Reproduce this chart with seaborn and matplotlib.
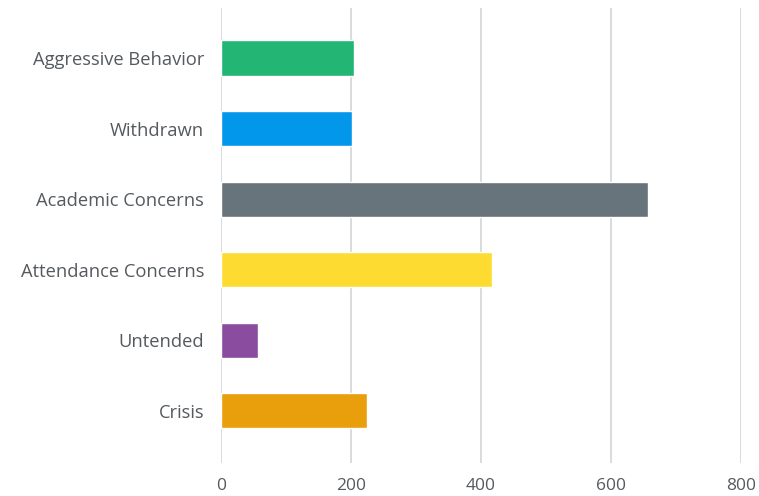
import matplotlib
matplotlib.use("Agg")
import matplotlib.pyplot as plt
import seaborn as sns
import pandas as pd

# Referral categories and counts
categories = ["Aggressive Behavior", "Withdrawn", "Academic Concerns",
              "Attendance Concerns", "Untended", "Crisis"]
counts = [204, 201, 657, 417, 57, 224]
bar_colors = ["#22b573", "#0397eb", "#67747c", "#fedb30", "#8a4c9e", "#e99f0c"]
x_ticks = [0, 200, 400, 600, 800]

sns.set_theme(style="white")
plt.rcParams["font.family"] = ["Open Sans", "DejaVu Sans"]

df = pd.DataFrame({"category": categories, "count": counts})

fig = plt.figure(figsize=(7.59, 4.96), dpi=100)
ax = fig.add_axes([221 / 759, 33 / 496, 520 / 759, 455 / 496])

sns.barplot(data=df, x="count", y="category", hue="category",
            palette=bar_colors, orient="h", width=0.5, legend=False,
            saturation=1, ax=ax)

ax.set_xlim(0, 800)
ax.set_ylim(5.74, -0.71)
ax.set_xticks(x_ticks)
ax.set_xticklabels([str(t) for t in x_ticks])
ax.grid(axis="x", color="#d9dbde", linewidth=1.4)
ax.set_axisbelow(True)
for s in ax.spines.values():
    s.set_visible(False)
ax.set_xlabel("")
ax.set_ylabel("")
ax.tick_params(axis="both", length=0, colors="#555a5f")
ax.tick_params(axis="y", pad=12, labelsize=13.2)
ax.tick_params(axis="x", pad=11, labelsize=12.5)

fig.savefig("out.png", dpi=100)
